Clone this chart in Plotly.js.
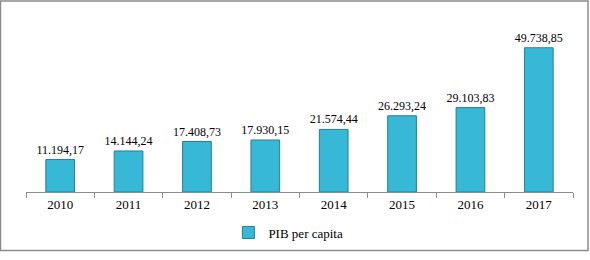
<!DOCTYPE html>
<html>
<head>
<meta charset="utf-8">
<script src="https://cdn.plot.ly/plotly-3.0.1.min.js"></script>
<style>html,body{margin:0;padding:0;background:#fff;}#chart{width:590px;height:260px;}</style>
</head>
<body>
<div id="chart"></div>
<script>
const years = ['2010','2011','2012','2013','2014','2015','2016','2017'];
const pibPerCapita = [11194.17, 14144.24, 17408.73, 17930.15, 21574.44, 26293.24, 29103.83, 49738.85];
const seriesName = 'PIB per capita';

const trace = {
  type: 'bar',
  x: years,
  y: pibPerCapita,
  name: seriesName,
  showlegend: true,
  marker: {color: '#38b8d7', line: {color: '#247f98', width: 1}},
  texttemplate: '%{y:,.2f}',
  textposition: 'outside',
  constraintext: 'none',
  cliponaxis: false,
  textfont: {family: 'Liberation Serif', size: 12, color: '#000000'},
  outsidetextfont: {family: 'Liberation Serif', size: 12, color: '#000000'},
  hoverinfo: 'skip'
};

const layout = {
  width: 590, height: 260,
  margin: {l: 26, r: 17, t: 18, b: 62},
  paper_bgcolor: '#fff', plot_bgcolor: '#fff',
  separators: ',.',
  bargap: 0.58,
  font: {family: 'Liberation Serif', size: 13, color: '#000'},
  xaxis: {
    type: 'category',
    showline: true, linecolor: '#8c8c8c', linewidth: 1,
    ticks: 'outside', tickson: 'boundaries', ticklen: 5, tickcolor: '#8c8c8c',
    tickfont: {family: 'Liberation Serif', size: 13, color: '#000'},
    showgrid: false, zeroline: false
  },
  yaxis: {range: [0, 60000], visible: false, showgrid: false, zeroline: false},
  showlegend: true,
  legend: {
    orientation: 'h', x: 0.37, xanchor: 'left', y: -0.233, yanchor: 'middle',
    itemwidth: 30,
    font: {family: 'Liberation Serif', size: 13, color: '#000'}
  },
  shapes: [{
    type: 'rect', xref: 'paper', yref: 'paper',
    x0: -25.5/547, x1: 1 + 15/547, y0: -60.5/180, y1: 1 + 17.5/180,
    line: {color: '#8c8c8c', width: 1.5}
  }]
};

Plotly.newPlot('chart', [trace], layout, {staticPlot: true, displayModeBar: false});
</script>
</body>
</html>
